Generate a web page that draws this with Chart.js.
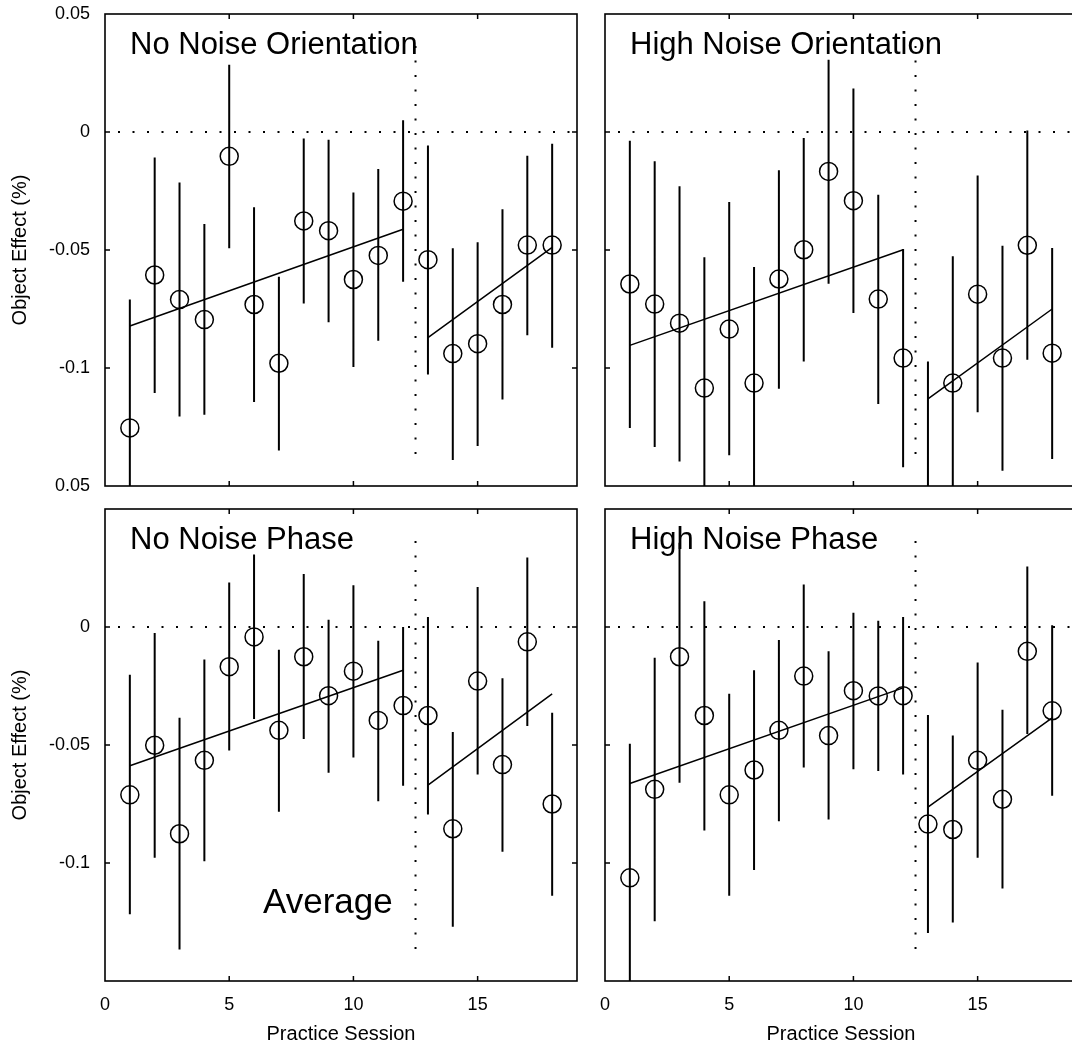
<!DOCTYPE html>
<html>
<head>
<meta charset="utf-8">
<title>Object Effect by Practice Session</title>
<script src="https://cdn.jsdelivr.net/npm/chart.js@4.4.1/dist/chart.umd.min.js"></script>
<style>
  html, body { margin: 0; padding: 0; background: #fff; overflow: hidden; }
  body { width: 1072px; height: 1044px; position: relative; }
  canvas { position: absolute; }
  #tl { left: 0; top: 0; }
  #tr { left: 500px; top: 0; }
  #bl { left: 0; top: 495px; }
  #br { left: 500px; top: 495px; }
</style>
</head>
<body>
<canvas id="tl" width="600" height="500"></canvas>
<canvas id="tr" width="600" height="500"></canvas>
<canvas id="bl" width="600" height="549"></canvas>
<canvas id="br" width="600" height="549"></canvas>
<script>
// sessions 1..18, break between 12 and 13
const sessions = [1, 2, 3, 4, 5, 6, 7, 8, 9, 10, 11, 12, 13, 14, 15, 16, 17, 18];
const fitSessions = [1, 12, 13, 18];
const breakSession = 12.5;
const breakLineSpan = [0.0364, -0.1407];

const xTickValues = [0, 5, 10, 15];
const xTickLabels = ['0', '5', '10', '15'];
const yTickValues = [-0.15, -0.1, -0.05, 0, 0.05];
const yTickLabelsTop = ['0.05', '-0.1', '-0.05', '0', '0.05'];
const yTickLabelsBottom = ['', '-0.1', '-0.05', '0', ''];

// No Noise Orientation
const noNoiseOriMean = [-0.1254, -0.0606, -0.0710, -0.0795, -0.0103, -0.0731, -0.0980, -0.0377, -0.0418, -0.0625, -0.0523, -0.0293, -0.0541, -0.0939, -0.0897, -0.0731, -0.0479, -0.0479];
const noNoiseOriUpper = [-0.0710, -0.0108, -0.0214, -0.0390, 0.0285, -0.0319, -0.0613, -0.0028, -0.0033, -0.0256, -0.0157, 0.0050, -0.0057, -0.0493, -0.0467, -0.0327, -0.0101, -0.0050];
const noNoiseOriLower = [-0.1800, -0.1106, -0.1205, -0.1198, -0.0493, -0.1144, -0.1350, -0.0727, -0.0806, -0.0996, -0.0885, -0.0635, -0.1028, -0.1390, -0.1330, -0.1133, -0.0861, -0.0914];
const noNoiseOriFit = [-0.0822, -0.0412, -0.0871, -0.0489];

// High Noise Orientation
const highNoiseOriMean = [-0.0644, -0.0729, -0.0810, -0.1085, -0.0835, -0.1064, -0.0623, -0.0499, -0.0167, -0.0291, -0.0708, -0.0958, -0.1600, -0.1064, -0.0687, -0.0958, -0.0480, -0.0937];
const highNoiseOriUpper = [-0.0037, -0.0124, -0.0230, -0.0531, -0.0297, -0.0572, -0.0162, -0.0025, 0.0306, 0.0184, -0.0266, -0.0496, -0.0972, -0.0527, -0.0184, -0.0482, 0.0006, -0.0492];
const highNoiseOriLower = [-0.1254, -0.1335, -0.1396, -0.1639, -0.1370, -0.1556, -0.1088, -0.0972, -0.0643, -0.0767, -0.1153, -0.1421, -0.2228, -0.1600, -0.1188, -0.1435, -0.0965, -0.1386];
const highNoiseOriFit = [-0.0904, -0.0499, -0.1131, -0.0750];

// No Noise Phase
const noNoisePhaseMean = [-0.0711, -0.0501, -0.0876, -0.0565, -0.0168, -0.0042, -0.0438, -0.0126, -0.0291, -0.0187, -0.0396, -0.0333, -0.0375, -0.0855, -0.0229, -0.0583, -0.0063, -0.0750];
const noNoisePhaseUpper = [-0.0202, -0.0025, -0.0385, -0.0138, 0.0189, 0.0307, -0.0096, 0.0225, 0.0031, 0.0177, -0.0058, 0.0000, 0.0042, -0.0445, 0.0169, -0.0217, 0.0294, -0.0363];
const noNoisePhaseLower = [-0.1217, -0.0978, -0.1367, -0.0993, -0.0523, -0.0390, -0.0783, -0.0475, -0.0618, -0.0553, -0.0738, -0.0673, -0.0795, -0.1270, -0.0625, -0.0952, -0.0420, -0.1139];
const noNoisePhaseFit = [-0.0588, -0.0183, -0.0670, -0.0283];

// High Noise Phase
const highNoisePhaseMean = [-0.1063, -0.0688, -0.0126, -0.0375, -0.0711, -0.0606, -0.0438, -0.0208, -0.0460, -0.0270, -0.0292, -0.0291, -0.0835, -0.0858, -0.0565, -0.0730, -0.0103, -0.0355];
const highNoisePhaseUpper = [-0.0495, -0.0130, 0.0357, 0.0109, -0.0283, -0.0183, -0.0055, 0.0180, -0.0103, 0.0060, 0.0027, 0.0042, -0.0373, -0.0460, -0.0150, -0.0351, 0.0256, 0.0007];
const highNoisePhaseLower = [-0.1630, -0.1247, -0.0660, -0.0862, -0.1139, -0.1030, -0.0823, -0.0595, -0.0816, -0.0603, -0.0610, -0.0625, -0.1297, -0.1252, -0.0978, -0.1108, -0.0453, -0.0715];
const highNoisePhaseFit = [-0.0663, -0.0258, -0.0763, -0.0385];

const FONT = '"Liberation Sans", Arial, Helvetica, sans-serif';
Chart.defaults.font.family = FONT;
Chart.defaults.color = '#000';

// box, inward ticks and the text labels inside each panel
const panelFrame = {
    id: 'panelFrame',
    afterDatasetsDraw(chart, args, opts) {
        const { ctx, chartArea: a, scales: { x, y } } = chart;
        ctx.save();
        ctx.strokeStyle = '#000';
        ctx.lineWidth = 1.6;
        ctx.strokeRect(a.left, a.top, a.right - a.left, a.bottom - a.top);

        ctx.lineWidth = 1.5;
        ctx.beginPath();
        xTickValues.forEach(v => {
            if (v === 0) return;
            const px = x.getPixelForValue(v);
            ctx.moveTo(px, a.bottom); ctx.lineTo(px, a.bottom - 5);
            ctx.moveTo(px, a.top); ctx.lineTo(px, a.top + 5);
        });
        yTickValues.forEach(v => {
            if (v <= -0.15 || v >= 0.05) return;
            const py = y.getPixelForValue(v);
            ctx.moveTo(a.left, py); ctx.lineTo(a.left + 5, py);
            ctx.moveTo(a.right, py); ctx.lineTo(a.right - 5, py);
        });
        ctx.stroke();

        ctx.fillStyle = '#000';
        ctx.textBaseline = 'alphabetic';
        ctx.textAlign = 'left';
        ctx.font = '31px ' + FONT;
        ctx.fillText(opts.title, a.left + 25, a.top + 40);
        if (opts.note) {
            ctx.font = '35px ' + FONT;
            ctx.fillText(opts.note.text, x.getPixelForValue(opts.note.x), y.getPixelForValue(opts.note.y));
        }
        ctx.restore();
    }
};

function errorBarPoints(lower, upper) {
    const pts = [];
    sessions.forEach((s, i) => {
        pts.push({ x: s, y: lower[i] }, { x: s, y: upper[i] }, { x: s, y: null });
    });
    return pts;
}

function fitPoints(fit) {
    return [
        { x: fitSessions[0], y: fit[0] },
        { x: fitSessions[1], y: fit[1] },
        { x: breakSession, y: null },
        { x: fitSessions[2], y: fit[2] },
        { x: fitSessions[3], y: fit[3] }
    ];
}

function noEdgePadding(s) {
    s.paddingTop = 0;
    s.paddingBottom = 0;
    s.paddingLeft = 0;
    s.paddingRight = 0;
}

function makePanel(id, cfg) {
    const ctx = document.getElementById(id).getContext('2d');
    const isBottom = cfg.bottom;
    const isLeft = cfg.left;

    new Chart(ctx, {
        type: 'line',
        data: {
            datasets: [
                {
                    label: 'mean',
                    data: sessions.map((s, i) => ({ x: s, y: cfg.mean[i] })),
                    showLine: false,
                    pointStyle: 'circle',
                    pointRadius: 9,
                    pointBorderWidth: 1.5,
                    pointBorderColor: '#000',
                    pointBackgroundColor: 'rgba(0,0,0,0)',
                    clip: 0
                },
                {
                    label: 'error',
                    data: errorBarPoints(cfg.lower, cfg.upper),
                    borderColor: '#000',
                    borderWidth: 2,
                    pointRadius: 0,
                    spanGaps: false,
                    clip: 0
                },
                {
                    label: 'fit',
                    data: fitPoints(cfg.fit),
                    borderColor: '#000',
                    borderWidth: 1.5,
                    pointRadius: 0,
                    spanGaps: false,
                    clip: 0
                },
                {
                    label: 'zero',
                    data: [{ x: 0, y: 0 }, { x: 19, y: 0 }],
                    borderColor: '#000',
                    borderWidth: 2,
                    borderDash: [2, 12.5],
                    borderDashOffset: -13,
                    pointRadius: 0,
                    clip: 0
                },
                {
                    label: 'break',
                    data: [{ x: breakSession, y: breakLineSpan[0] }, { x: breakSession, y: breakLineSpan[1] }],
                    borderColor: '#000',
                    borderWidth: 2,
                    borderDash: [2, 12.5],
                    pointRadius: 0,
                    clip: 0
                }
            ]
        },
        options: {
            responsive: false,
            animation: false,
            events: [],
            layout: { padding: { top: 14, right: 23, bottom: 0, left: 0 } },
            scales: {
                x: {
                    type: 'linear',
                    min: 0,
                    max: 19,
                    grid: { display: false, drawTicks: false },
                    border: { display: false },
                    afterBuildTicks: s => { s.ticks = xTickValues.map(v => ({ value: v })); },
                    afterFit: s => { s.height = isBottom ? 63 : 14; noEdgePadding(s); },
                    ticks: {
                        display: isBottom,
                        padding: 13,
                        maxRotation: 0,
                        autoSkip: false,
                        font: { size: 18 },
                        callback: (v, i) => xTickLabels[i]
                    },
                    title: {
                        display: isBottom,
                        text: 'Practice Session',
                        font: { size: 20, lineHeight: 1 },
                        padding: { top: 0, bottom: 0 }
                    }
                },
                y: {
                    min: -0.15,
                    max: 0.05,
                    grid: { display: false, drawTicks: false },
                    border: { display: false },
                    afterBuildTicks: s => { s.ticks = yTickValues.map(v => ({ value: v })); },
                    afterFit: s => { s.width = 105; noEdgePadding(s); },
                    ticks: {
                        display: isLeft,
                        padding: 15,
                        autoSkip: false,
                        font: { size: 18 },
                        callback: (v, i) => (isBottom ? yTickLabelsBottom : yTickLabelsTop)[i]
                    },
                    title: {
                        display: isLeft,
                        text: 'Object Effect (%)',
                        font: { size: 20 },
                        padding: { top: 8, bottom: 0 }
                    }
                }
            },
            plugins: {
                legend: { display: false },
                tooltip: { enabled: false },
                panelFrame: { title: cfg.title, note: cfg.note }
            }
        },
        plugins: [panelFrame]
    });
}

makePanel('tl', {
    left: true, bottom: false, title: 'No Noise Orientation',
    mean: noNoiseOriMean, upper: noNoiseOriUpper, lower: noNoiseOriLower, fit: noNoiseOriFit
});
makePanel('tr', {
    left: false, bottom: false, title: 'High Noise Orientation',
    mean: highNoiseOriMean, upper: highNoiseOriUpper, lower: highNoiseOriLower, fit: highNoiseOriFit
});
makePanel('bl', {
    left: true, bottom: true, title: 'No Noise Phase',
    mean: noNoisePhaseMean, upper: noNoisePhaseUpper, lower: noNoisePhaseLower, fit: noNoisePhaseFit,
    note: { text: 'Average', x: 6.36, y: -0.121 }
});
makePanel('br', {
    left: false, bottom: true, title: 'High Noise Phase',
    mean: highNoisePhaseMean, upper: highNoisePhaseUpper, lower: highNoisePhaseLower, fit: highNoisePhaseFit
});
</script>
</body>
</html>
